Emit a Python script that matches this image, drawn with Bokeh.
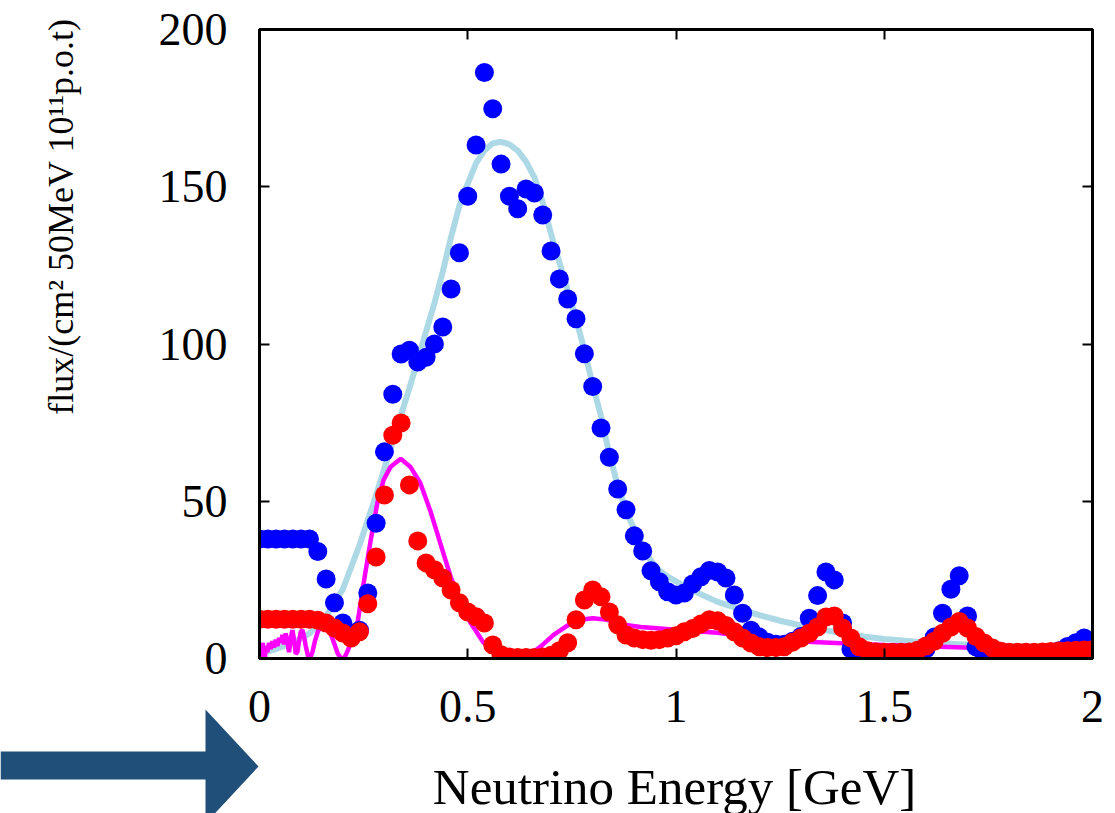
import numpy as np
from bokeh.plotting import figure
from bokeh.layouts import column
from bokeh.models import Range1d, FixedTicker, LinearAxis, NumeralTickFormatter
from bokeh.core.properties import value
from bokeh.embed import file_html
from bokeh.resources import INLINE

# ---------------- data ----------------
energy_pts = np.round(np.arange(0, 2.001, 0.02), 2)

flux_blue = [38, 38, 38, 38, 38, 38, 38, 34, 25.3, 17.7,
             11.3, 8, 9, 20.8, 43, 65.7, 84, 96.8, 98, 94.3,
             95.8, 100, 105.4, 117.5, 129, 147, 163.3, 186.3, 174.8, 157.2,
             147, 143, 149.3, 148, 141, 129.6, 120.7, 114.3, 108, 96.9,
             86.5, 73.3, 64, 53.9, 47.3, 39, 34.2, 27.9, 24.4, 21.2,
             20.2, 20.8, 23.7, 26, 28, 27.5, 25.6, 20.2, 14.4, 9,
             6.8, 5.2, 4.5, 4.5, 5.5, 7, 12.8, 20, 27.5, 25,
             11.3, 3, 1, 0.5, 0.3, 0.3, 0.3, 0.3, 0.5, 1.2,
             3, 6.8, 14.4, 22, 26.3, 13.5, 3.7, 1, 0.5, 0.3,
             0.3, 0.3, 0.3, 0.5, 0.8, 1.2, 2.5, 3.8, 5, 6.5,
             3.3]

flux_red = [12.5, 12.5, 12.5, 12.5, 12.5, 12.5, 12.5, 12.2, 11.3, 9.7,
            8.1, 6.5, 8.5, 17.4, 32.3, 52, 71, 74.9, 55.2, 37.4,
            30.4, 28.2, 25.6, 21.8, 17.7, 14.8, 13.3, 11.3, 4.3, 1.2,
            0.5, 0.3, 0.3, 0.3, 0.5, 1, 2.5, 5, 12.3, 18.6,
            21.8, 19.6, 14.8, 10.7, 7.5, 6.5, 6, 5.8, 6, 6.5,
            7.2, 8.5, 9.5, 11, 12.3, 12, 10.5, 8.5, 6.5, 4.9,
            3.7, 3.5, 3.5, 3.7, 5.2, 6.5, 8, 10, 13.2, 13.5,
            9.7, 6.5, 3.7, 2.5, 2.1, 2, 2, 2, 2.1, 2.6,
            4, 5.5, 8, 10, 11.8, 9.7, 7, 4.9, 3.3, 2.3,
            2, 2, 2, 2, 2.1, 2.2, 2.4, 2.5, 2.6, 2.7,
            2.8]

curve_blue_x = [0.00, 0.04, 0.08, 0.12, 0.16, 0.20, 0.24, 0.28, 0.32, 0.36,
                0.40, 0.42, 0.44, 0.46, 0.48, 0.50, 0.52, 0.54, 0.56, 0.58,
                0.60, 0.62, 0.64, 0.66, 0.68, 0.70, 0.72, 0.74, 0.76, 0.78,
                0.80, 0.82, 0.84, 0.86, 0.88, 0.90, 0.92, 0.94, 0.96, 0.98,
                1.00, 1.05, 1.10, 1.15, 1.20, 1.25, 1.30, 1.35, 1.40, 1.45,
                1.50, 1.60, 1.70, 1.80, 1.90, 2.00]
curve_blue_y = [1.5, 3, 5, 8, 13.5, 22, 36, 52, 69, 86,
                104, 113, 123, 134, 144, 151, 157.5, 161.5, 163.8, 164.3,
                163.5, 161.5, 158, 153, 145, 135, 126, 117, 108, 98,
                87, 77, 65, 55, 47, 41, 35.5, 31, 28, 26,
                24.5, 21, 18, 15.8, 13.8, 12, 10.5, 9.2, 8, 7,
                6.2, 5.1, 4.4, 4, 3.6, 3.3]

curve_red_x = [0.000, 0.004, 0.008, 0.011, 0.015, 0.019, 0.023, 0.027, 0.031, 0.035,
               0.039, 0.043, 0.047, 0.051, 0.055, 0.059, 0.063, 0.067, 0.071, 0.075,
               0.079, 0.083, 0.087, 0.091, 0.095, 0.099, 0.103, 0.107, 0.111, 0.116,
               0.121, 0.127, 0.133, 0.140, 0.148, 0.156, 0.164, 0.172, 0.180, 0.188,
               0.196, 0.204, 0.212, 0.220, 0.235, 0.250, 0.267, 0.283, 0.298, 0.315,
               0.339, 0.362, 0.386, 0.410, 0.434, 0.459, 0.483, 0.507, 0.538, 0.570,
               0.603, 0.634, 0.655, 0.675, 0.706, 0.740, 0.770, 0.800, 0.835, 0.875,
               0.915, 0.955, 1.020, 1.100, 1.195, 1.315, 1.370, 1.500, 1.710, 1.850,
               2.000]
curve_red_y = [3, -1, 5, -4, 4, 2, 5, 3, 5.5, 3.5,
               6, 4, 6.5, 5, 7.5, 4.5, 8, 5, 2, 6.5,
               9, 6, 1.5, 2, 5.5, 8.5, 9, 7, 4, 1,
               0, 2, 5.5, 8.5, 10.5, 11, 10, 7.5, 4.5, 1.5,
               0, 0.3, 2.5, 5.5, 11, 24, 37.6, 49.5, 56.8, 61,
               63.5, 61, 55.8, 47, 36.7, 26, 17.7, 11.3, 5, 1.8,
               0.3, 0.5, 1.8, 3.8, 7.5, 10.5, 12.3, 12.8, 12.3, 10.7,
               10, 9.6, 8.9, 8.2, 6.5, 5.3, 5, 4.3, 3.4, 2.9,
               2.5]

x_ticks = [0, 0.5, 1, 1.5, 2]
y_ticks = [0, 50, 100, 150, 200]
x_title = "Neutrino Energy [GeV]"
y_title = "flux/(cm² 50MeV 10¹¹p.o.t)"

FONT = "Liberation Serif"
W, H = 1115, 813

# ---------------- main figure ----------------
p = figure(output_backend="svg", toolbar_location=None,
           frame_width=833, frame_height=629,
           x_range=Range1d(0, 2), y_range=Range1d(0, 200),
           min_border_left=259, min_border_right=23,
           min_border_top=29, min_border_bottom=155,
           x_axis_location=None, y_axis_location=None)
p.frame_align = False
p.background_fill_color = "white"
p.border_fill_color = "white"
p.xgrid.visible = False
p.ygrid.visible = False
p.outline_line_color = "black"
p.outline_line_width = 3


def style_axis(ax, show_labels, size="46px"):
    ax.axis_line_width = 3
    ax.axis_line_color = "black"
    ax.major_tick_in = 10
    ax.major_tick_out = 0
    ax.major_tick_line_width = 2
    ax.minor_tick_line_color = None
    ax.major_label_text_font = FONT
    ax.major_label_text_color = "black"
    if show_labels:
        ax.major_label_text_font_size = size
    else:
        ax.major_label_text_font_size = "0px"
        ax.major_label_standoff = 0


xb = LinearAxis(ticker=FixedTicker(ticks=x_ticks),
                formatter=NumeralTickFormatter(format="0.[0]"))
style_axis(xb, True, "46px")
xb.major_label_standoff = 32
p.add_layout(xb, "below")

xt = LinearAxis(ticker=FixedTicker(ticks=x_ticks))
style_axis(xt, False)
p.add_layout(xt, "above")

yl = LinearAxis(ticker=FixedTicker(ticks=y_ticks))
style_axis(yl, True, "46px")
yl.major_label_standoff = 32
p.add_layout(yl, "left")

yr = LinearAxis(ticker=FixedTicker(ticks=y_ticks))
style_axis(yr, False)
p.add_layout(yr, "right")

# ---------------- glyphs ----------------
p.line(curve_blue_x, curve_blue_y, line_color="#ADD8E6", line_width=6)
p.line(curve_red_x, curve_red_y, line_color="#FF00FF", line_width=4.5)
p.scatter(energy_pts, flux_blue, size=19, fill_color="#0000FF", line_color=None)
p.scatter(energy_pts, flux_red, size=19, fill_color="#FF0000", line_color=None)

# ---------------- overlay (axis titles + arrow), pixel space ----------------
ov = figure(output_backend="svg", toolbar_location=None,
            width=W, height=H, min_border=0,
            x_range=Range1d(0, W), y_range=Range1d(H, 0),
            x_axis_location=None, y_axis_location=None)
ov.frame_align = False
ov.xgrid.visible = False
ov.ygrid.visible = False
ov.outline_line_color = None
ov.background_fill_color = None
ov.border_fill_color = None
ov.margin = (-H, 0, 0, 0)

ov.text(x=[60], y=[216], text=[y_title], angle=np.pi / 2,
        text_align="center", text_baseline="middle",
        text_font=value(FONT), text_font_size="36px", text_color="black")
ov.text(x=[674], y=[786], text=[x_title],
        text_align="center", text_baseline="middle",
        text_font=value(FONT), text_font_size="51px", text_color="black")
ov.patch([0, 205, 205, 258, 205, 205, 0],
         [751, 751, 709, 766, 823, 779, 779],
         fill_color="#204F79", line_color=None)

layout = column(p, ov, spacing=0)
open("out.html", "w").write(file_html(layout, INLINE))
